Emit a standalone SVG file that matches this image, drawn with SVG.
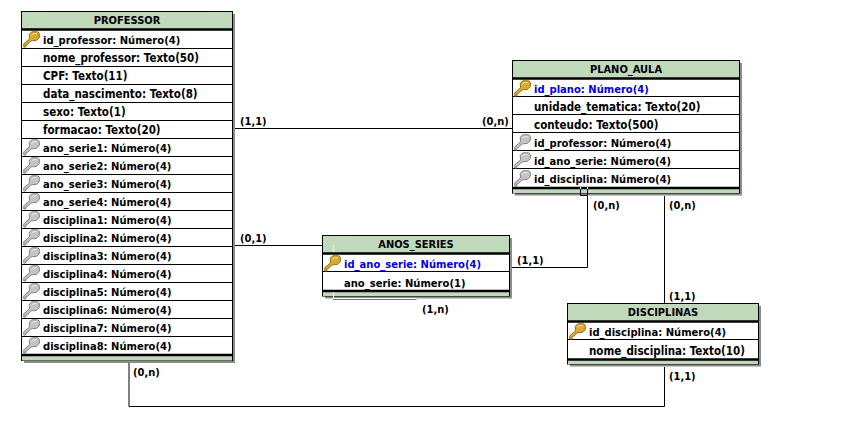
<svg xmlns="http://www.w3.org/2000/svg" width="856" height="441" viewBox="0 0 856 441">
<style>
text{font-family:"DejaVu Sans Condensed","DejaVu Sans",sans-serif;font-weight:700;font-size:11.5px;fill:#000}
.n{font-size:11.1px}
.l{font-size:11px}
.blue{fill:#0000e6}
.t{text-anchor:middle;font-size:11px}
.box{fill:#fff;stroke:#000;stroke-width:1}
.sh{fill:#8c8c8c}
.hd{fill:#c0d9bb}
.sep{stroke:#000;stroke-width:1;fill:none}
.thick{stroke:#000;stroke-width:2.5;fill:none}
.conn{stroke:#000;stroke-width:1;fill:none}
.w{stroke:#fff;stroke-width:1;fill:none}
</style>
<defs>
<symbol id="k" viewBox="0 0 18 18" overflow="visible">
<path d="M0.800 17L0.800 13.500L7 8.300L6.500 3.500L9.500 0.800L15.500 0.800L17.300 2.500L17.300 7L14 10L10 10.300L8 10.800L4.500 14.500L3 14.800L3 17Z" stroke-linejoin="round"/>
<path d="M9 4.500L11 2.800H14.500" fill="none" stroke="#fff" stroke-opacity=".7"/>
</symbol>
</defs>
<g id="connectors">
<path class="conn" d="M233.500 128.500H512.500"/>
<path class="conn" d="M233.500 245.500H322.500"/>
<path class="conn" d="M510 267.500H587.500V196"/>
<path class="conn" d="M664.500 196V303.500"/>
<path class="conn" d="M129 363V406.500H664.500V367"/>
<text class="l" x="240" y="125">(1,1)</text>
<text class="l" x="482" y="125">(0,n)</text>
<text class="l" x="240" y="242">(0,1)</text>
<text class="l" x="517" y="264">(1,1)</text>
<text class="l" x="593" y="209">(0,n)</text>
<text class="l" x="669" y="209">(0,n)</text>
<text class="l" x="669" y="300">(1,1)</text>
<text class="l" x="422" y="313">(1,n)</text>
<text class="l" x="133" y="376">(0,n)</text>
<text class="l" x="669" y="380">(1,1)</text>
</g>
<g id="PROFESSOR">
<rect class="sh" x="24" y="14" width="211" height="349"/>
<rect class="box" x="21.500" y="11.500" width="211" height="349"/>
<rect class="hd" x="22" y="12" width="210" height="17"/>
<rect class="hd" x="22" y="356" width="210" height="4.500"/>
<path class="thick" d="M22 29.500H232M22 355H232"/>
<path class="sep" d="M22 48.500H232M22 66.500H232M22 84.500H232M22 102.500H232M22 120.500H232M22 138.500H232M22 156.500H232M22 174.500H232M22 192.500H232M22 210.500H232M22 228.500H232M22 246.500H232M22 264.500H232M22 282.500H232M22 300.500H232M22 318.500H232M22 336.500H232"/>
<text class="t" x="127" y="24">PROFESSOR</text>
<use href="#k" x="23" y="31" width="17" height="17" fill="#dca92f" stroke="#8f6a12"/>
<g fill="#c4c4c4" stroke="#808080">
<use href="#k" x="23" y="139" width="17" height="17"/><use href="#k" x="23" y="157" width="17" height="17"/><use href="#k" x="23" y="175" width="17" height="17"/><use href="#k" x="23" y="193" width="17" height="17"/><use href="#k" x="23" y="211" width="17" height="17"/><use href="#k" x="23" y="229" width="17" height="17"/><use href="#k" x="23" y="247" width="17" height="17"/><use href="#k" x="23" y="265" width="17" height="17"/><use href="#k" x="23" y="283" width="17" height="17"/><use href="#k" x="23" y="301" width="17" height="17"/><use href="#k" x="23" y="319" width="17" height="17"/><use href="#k" x="23" y="337" width="17" height="17"/>
</g>
<text class="n" x="43" y="44">id_professor: Número(4)</text>
<text x="43" y="62">nome_professor: Texto(50)</text>
<text x="43" y="80">CPF: Texto(11)</text>
<text x="43" y="98">data_nascimento: Texto(8)</text>
<text x="43" y="116">sexo: Texto(1)</text>
<text x="43" y="134">formacao: Texto(20)</text>
<text class="n" x="43" y="152">ano_serie1: Número(4)</text>
<text class="n" x="43" y="170">ano_serie2: Número(4)</text>
<text class="n" x="43" y="188">ano_serie3: Número(4)</text>
<text class="n" x="43" y="206">ano_serie4: Número(4)</text>
<text class="n" x="43" y="224">disciplina1: Número(4)</text>
<text class="n" x="43" y="242">disciplina2: Número(4)</text>
<text class="n" x="43" y="260">disciplina3: Número(4)</text>
<text class="n" x="43" y="278">disciplina4: Número(4)</text>
<text class="n" x="43" y="296">disciplina5: Número(4)</text>
<text class="n" x="43" y="314">disciplina6: Número(4)</text>
<text class="n" x="43" y="332">disciplina7: Número(4)</text>
<text class="n" x="43" y="350">disciplina8: Número(4)</text>
</g>
<g id="PLANO_AULA">
<rect class="sh" x="515" y="63" width="227" height="132.500"/>
<rect class="box" x="512.500" y="60.500" width="227" height="132.500"/>
<rect class="hd" x="513" y="61" width="226" height="17"/>
<rect class="hd" x="513" y="189" width="226" height="4"/>
<path class="thick" d="M513 78.500H739M513 188H739"/>
<path class="sep" d="M513 96.500H739M513 114.500H739M513 132.500H739M513 150.500H739M513 168.500H739"/>
<text class="t" x="626" y="73">PLANO_AULA</text>
<use href="#k" x="514" y="80" width="17" height="17" fill="#dca92f" stroke="#8f6a12"/>
<g fill="#c4c4c4" stroke="#808080">
<use href="#k" x="514" y="134" width="17" height="17"/><use href="#k" x="514" y="152" width="17" height="17"/><use href="#k" x="514" y="170" width="17" height="17"/>
</g>
<text class="blue n" x="534" y="93">id_plano: Número(4)</text>
<text x="534" y="111">unidade_tematica: Texto(20)</text>
<text x="534" y="129">conteudo: Texto(500)</text>
<text class="n" x="534" y="147">id_professor: Número(4)</text>
<text class="n" x="534" y="165">id_ano_serie: Número(4)</text>
<text class="n" x="534" y="183">id_disciplina: Número(4)</text>
<path class="w" d="M580.500 187V195.500H587.500V187"/>
<path class="conn" d="M580.500 189V195.500H587.500V189"/>
</g>
<g id="ANOS_SERIES">
<rect class="sh" x="325" y="238" width="187" height="60.500"/>
<rect class="box" x="322.500" y="235.500" width="187" height="60.500"/>
<rect class="hd" x="323" y="236" width="186" height="17"/>
<rect class="hd" x="323" y="292" width="186" height="4"/>
<path class="thick" d="M323 253.500H509M323 291H509"/>
<path class="sep" d="M323 271.500H509"/>
<text class="t" x="416" y="248">ANOS_SERIES</text>
<use href="#k" x="324" y="255" width="17" height="17" fill="#dca92f" stroke="#8f6a12"/>
<text class="blue n" x="344" y="268">id_ano_serie: Número(4)</text>
<text class="n" x="344" y="287">ano_serie: Número(1)</text>
<path class="w" d="M333.500 245V252"/>
<path class="w" d="M333.500 292V298.500H416.500"/>
<path class="conn" d="M333 299.500H416.500" stroke-opacity=".55"/>
</g>
<g id="DISCIPLINAS">
<rect class="sh" x="570" y="306" width="191" height="60.500"/>
<rect class="box" x="567.500" y="303.500" width="191" height="60.500"/>
<rect class="hd" x="568" y="304" width="190" height="17"/>
<rect class="hd" x="568" y="360" width="190" height="4"/>
<path class="thick" d="M568 321.500H758M568 359.500H758"/>
<path class="sep" d="M568 339.500H758"/>
<text class="t" x="663" y="316">DISCIPLINAS</text>
<use href="#k" x="569" y="323" width="17" height="17" fill="#dca92f" stroke="#8f6a12"/>
<text class="n" x="589" y="336">id_disciplina: Número(4)</text>
<text x="589" y="355">nome_disciplina: Texto(10)</text>
</g>
</svg>
